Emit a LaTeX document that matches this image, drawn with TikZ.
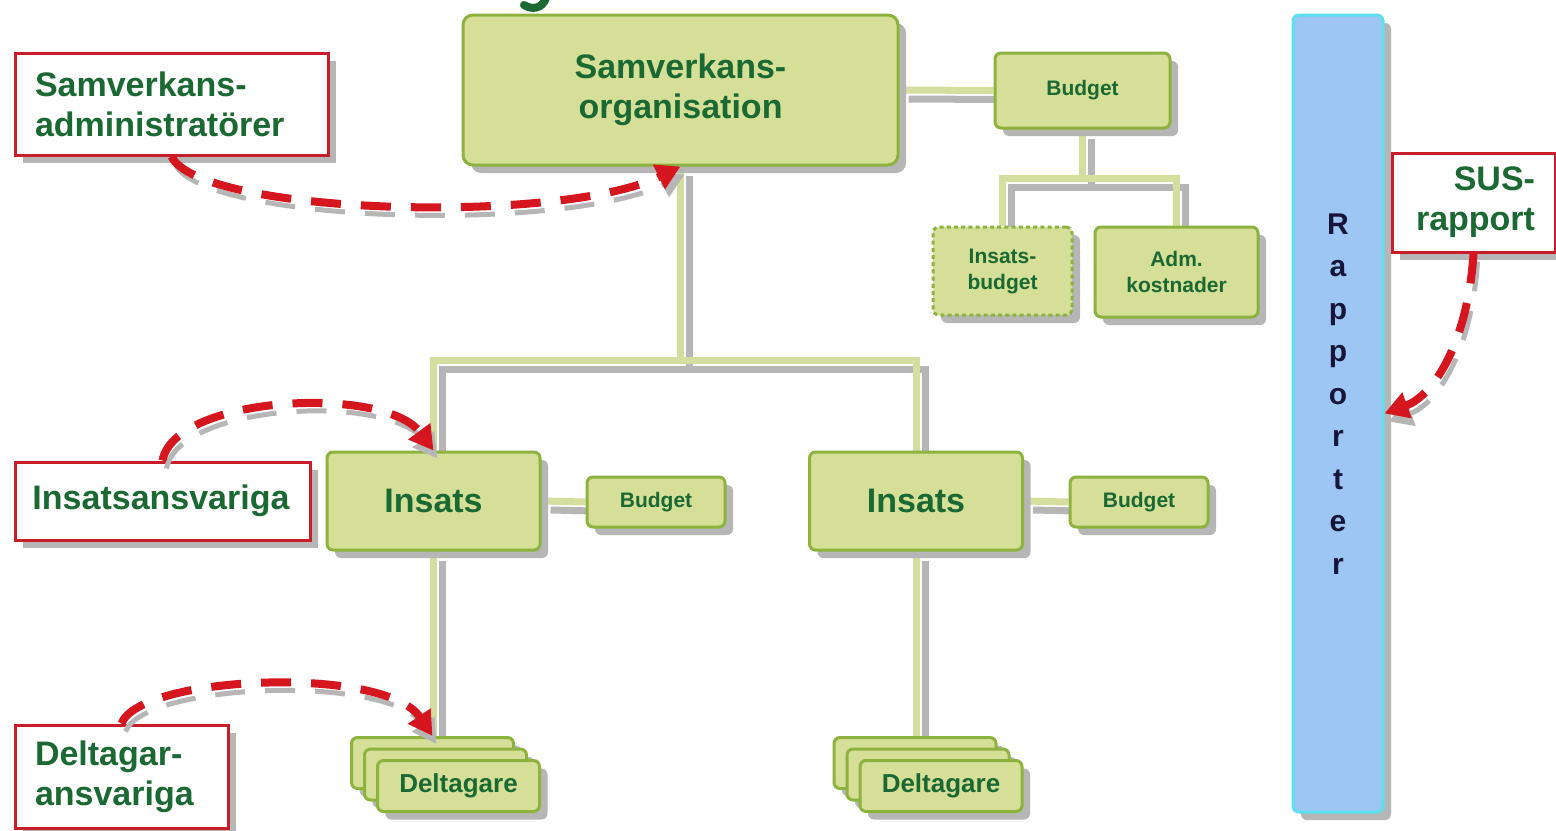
\documentclass[tikz,border=0pt]{standalone}
\usepackage{fontspec}
\setmainfont{Liberation Sans}
\usetikzlibrary{arrows.meta,shadows,backgrounds,calc}

\definecolor{boxfill}{RGB}{213,223,152}
\definecolor{boxline}{RGB}{141,178,62}
\definecolor{connline}{RGB}{212,222,158}
\definecolor{shadowgray}{RGB}{182,182,182}
\definecolor{txtgreen}{RGB}{26,104,50}
\definecolor{arrred}{RGB}{214,22,30}
\definecolor{redframe}{RGB}{200,30,42}
\definecolor{rapfill}{RGB}{158,198,245}
\definecolor{rapline}{RGB}{92,224,238}
\definecolor{raptextcol}{RGB}{22,22,58}

\begin{document}
\begin{tikzpicture}[x=0.5pt,y=-0.5pt,
  gshadow/.style={drop shadow={shadow xshift=4pt,shadow yshift=-4pt,fill=shadowgray,opacity=1}},
  bigtext/.style={font=\fontsize{17}{20}\selectfont\bfseries},
  smalltext/.style={font=\fontsize{10.5}{13}\selectfont\bfseries},
  midtext/.style={font=\fontsize{13}{15}\selectfont\bfseries},
  greenbox/.style={draw=boxline,fill=boxfill,line width=1.5pt,rounded corners=3pt,gshadow,
    text=txtgreen,align=center,inner sep=0pt},
  redbox/.style={draw=redframe,fill=white,line width=1.5pt,gshadow,text=txtgreen,bigtext,
    align=left,inner xsep=10pt,inner ysep=0pt},
  conn/.style={draw=connline,line width=3.5pt,
    preaction={draw=shadowgray,line width=3.5pt,transform canvas={shift={(4.5pt,-4.5pt)}}}},
  redarrow/.style={draw=arrred,line width=4pt,dash pattern=on 15pt off 10pt,
    -{Triangle[length=12pt,width=13pt]},
    preaction={draw=shadowgray,line width=2.5pt,dash pattern=on 15pt off 10pt,
      transform canvas={shift={(2pt,-4pt)}}}}
]
\useasboundingbox (0,0) rectangle (1556,830);

% fragment of a cut-off title glyph
\draw[txtgreen,line width=4pt,line cap=round] (546,-2) .. controls (542,9) and (532,10) .. (524,5);

% top organisation
\node[greenbox,bigtext,rounded corners=5pt,minimum width=217.5pt,minimum height=75pt] (org) at (680.5,90) {Samverkans-\\organisation};
\node[greenbox,smalltext,minimum width=87.5pt,minimum height=37.5pt] (bud0) at (1082.5,90.5) {Budget};
\node[greenbox,smalltext,dash pattern=on 2pt off 1.6pt,minimum width=69.5pt,minimum height=44pt] (insb) at (1002.5,271) {Insats-\\budget};
\node[greenbox,smalltext,minimum width=81.5pt,minimum height=45pt] (adm) at (1176.5,272) {Adm.\\kostnader};

% insatser
\node[greenbox,bigtext,minimum width=106.5pt,minimum height=49pt] (ins1) at (433.5,501) {Insats};
\node[greenbox,smalltext,minimum width=69pt,minimum height=25pt] (bud1) at (656,502) {Budget};
\node[greenbox,bigtext,minimum width=106.5pt,minimum height=49pt] (ins2) at (916,501) {Insats};
\node[greenbox,smalltext,minimum width=69pt,minimum height=25pt] (bud2) at (1139,502) {Budget};

% deltagare stacks
\node[greenbox,minimum width=81pt,minimum height=25.5pt] (del1a) at (432.5,763) {};
\node[greenbox,minimum width=81pt,minimum height=25.5pt] (del1b) at (445.5,774.5) {};
\node[greenbox,midtext,minimum width=81pt,minimum height=25.5pt] (del1c) at (458.5,786) {Deltagare};
\node[greenbox,minimum width=81pt,minimum height=25.5pt] (del2a) at (915,763) {};
\node[greenbox,minimum width=81pt,minimum height=25.5pt] (del2b) at (928,774.5) {};
\node[greenbox,midtext,minimum width=81pt,minimum height=25.5pt] (del2c) at (941,786) {Deltagare};

% rapporter
\node[draw=rapline,fill=rapfill,line width=1.5pt,rounded corners=3pt,gshadow,minimum width=45pt,minimum height=398.5pt,inner sep=0pt] (rap) at (1338,413.5) {};
\node[text=raptextcol,font=\fontsize{15}{21.25}\selectfont\bfseries,align=center,inner sep=0pt] (raptxt) at (1338,394) {R\\a\\p\\p\\o\\r\\t\\e\\r};

% red label boxes
\node[redbox,text width=136.5pt,minimum height=51pt] (sadm) at (171.5,104) {Samverkans-\\administratörer};
\node[redbox,text width=130pt,inner xsep=8.75pt,minimum height=39pt] (insresp) at (162.5,501) {Insatsansvariga};
\node[redbox,text width=86.5pt,minimum height=51.5pt] (delresp) at (121.5,776.5) {Deltagar-\\ansvariga};
\node[redbox,align=right,text width=61.5pt,minimum height=49.5pt] (sus) at (1473.5,202.5) {SUS-\\rapport};

% connectors
\begin{pgfonlayer}{background}
\fill[white] (0,0) rectangle (1556,830);
\coordinate (j) at (680.5,360);
\coordinate (bj) at (1082.5,178);
\draw[conn] (org.south) -- (j);
\draw[conn] (ins1.north) |- (j) -| (ins2.north);
\draw[conn] (org.east) -- (bud0.west);
\draw[conn] (bud0.south) -- (bj);
\draw[conn] (insb.north) |- (bj) -| (adm.north);
\draw[conn] (ins1.east) -- (bud1.west);
\draw[conn] (ins2.east) -- (bud2.west);
\draw[conn] (ins1.south) -- (ins1.south |- del1a.north);
\draw[conn] (ins2.south) -- (ins2.south |- del2a.north);
\end{pgfonlayer}

% red dashed arrows
\draw[redarrow] (sadm.south) .. controls (200,215) and (560,225) .. (org.south);
\draw[redarrow] (insresp.north) .. controls (175,395) and (385,385) .. (ins1.north);
\draw[redarrow] (delresp.north) .. controls (140,675) and (385,665) .. (del1a.north);
\draw[redarrow] (sus.south) .. controls (1468,340) and (1435,395) .. (rap.east);
\end{tikzpicture}
\end{document}
